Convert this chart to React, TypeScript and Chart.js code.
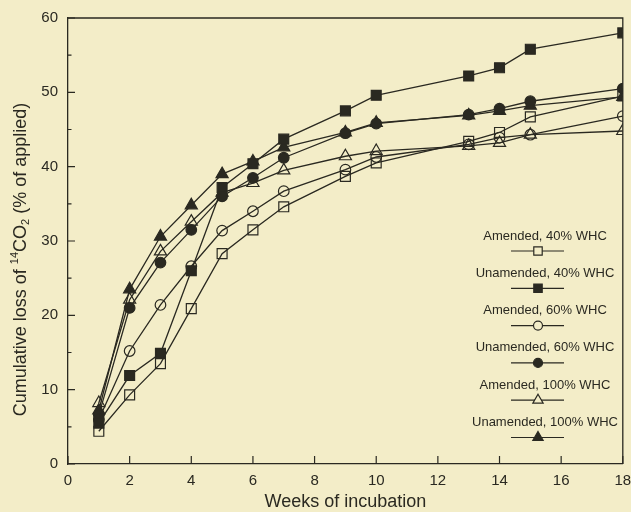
import React, { useEffect, useRef } from "react";
import { Chart, registerables } from "chart.js";

Chart.register(...registerables);

// ---- data ----
const weeks = [1, 2, 3, 4, 5, 6, 7, 9, 10, 13, 14, 15, 18];
const amended40 = [4.4, 9.3, 13.5, 20.9, 28.3, 31.5, 34.6, 38.7, 40.5, 43.4, 44.6, 46.7, 49.5];
const unamended40 = [5.5, 11.9, 14.9, 26.0, 37.2, 40.4, 43.7, 47.5, 49.6, 52.2, 53.3, 55.8, 58.0];
const amended60 = [6.0, 15.2, 21.4, 26.6, 31.4, 34.0, 36.7, 39.6, 41.3, 43.0, 43.9, 44.3, 46.8];
const unamended60 = [6.6, 21.0, 27.1, 31.5, 36.0, 38.5, 41.2, 44.5, 45.8, 47.0, 47.8, 48.8, 50.5];
const amended100 = [8.2, 22.1, 28.6, 32.6, 36.5, 37.8, 39.5, 41.4, 42.1, 42.8, 43.2, 44.3, 44.8];
const unamended100 = [7.2, 23.5, 30.6, 34.8, 39.0, 40.7, 42.6, 44.6, 45.9, 46.9, 47.5, 48.2, 49.4];

const seriesLabels = [
  "Amended, 40% WHC",
  "Unamended, 40% WHC",
  "Amended, 60% WHC",
  "Unamended, 60% WHC",
  "Amended, 100% WHC",
  "Unamended, 100% WHC",
];
const seriesValues = [amended40, unamended40, amended60, unamended60, amended100, unamended100];
const seriesShapes = ["rect", "rect", "circle", "circle", "triangle", "triangle"];
const seriesFilled = [false, true, false, true, false, true];

const xTicks = [0, 2, 4, 6, 8, 10, 12, 14, 16, 18];
const yTicks = [0, 10, 20, 30, 40, 50, 60];
const xTitle = "Weeks of incubation";

// ---- style ----
const BG = "#f3edc8";
const INK = "#2a2921";
const FONT = "'Liberation Sans', Arial, Helvetica, sans-serif";
const RADIUS: Record<string, number> = { rect: 7, circle: 5.3, triangle: 7 };

function drawMarker(ctx: CanvasRenderingContext2D, shape: string, x: number, y: number, r: number, filled: boolean) {
  ctx.beginPath();
  if (shape === "rect") {
    const h = Math.SQRT1_2 * r;
    ctx.rect(x - h, y - h, 2 * h, 2 * h);
  } else if (shape === "circle") {
    ctx.arc(x, y, r, 0, Math.PI * 2);
  } else {
    const a = (2 * Math.PI) / 3;
    ctx.moveTo(x, y - r);
    ctx.lineTo(x + Math.sin(a) * r, y - Math.cos(a) * r);
    ctx.lineTo(x + Math.sin(2 * a) * r, y - Math.cos(2 * a) * r);
    ctx.closePath();
  }
  ctx.fillStyle = filled ? INK : BG;
  ctx.fill();
  ctx.strokeStyle = INK;
  ctx.lineWidth = 1.2;
  ctx.stroke();
}

const decorPlugin = {
  id: "decor",
  beforeDraw(chart: any) {
    const ctx = chart.ctx;
    ctx.save();
    ctx.fillStyle = BG;
    ctx.fillRect(0, 0, chart.width, chart.height);
    ctx.restore();
  },
  afterDraw(chart: any) {
    const ctx: CanvasRenderingContext2D = chart.ctx;
    const { left, right, top, bottom } = chart.chartArea;
    const xs = chart.scales.x;
    const ys = chart.scales.y;
    ctx.save();
    ctx.strokeStyle = INK;
    ctx.lineWidth = 1.3;
    // frame top/right
    ctx.beginPath();
    ctx.moveTo(left, top);
    ctx.lineTo(right, top);
    ctx.lineTo(right, bottom);
    ctx.stroke();
    // inward ticks
    ctx.lineWidth = 1.2;
    ctx.beginPath();
    for (let v = 0; v <= 60; v += 5) {
      const py = ys.getPixelForValue(v);
      const len = v % 10 === 0 ? 7 : 3.5;
      ctx.moveTo(left, py);
      ctx.lineTo(left + len, py);
    }
    xTicks.forEach((v) => {
      const px = xs.getPixelForValue(v);
      ctx.moveTo(px, bottom);
      ctx.lineTo(px, bottom - 8);
    });
    ctx.stroke();

    // y title with super/subscript
    ctx.save();
    ctx.translate(21, 259.5);
    ctx.rotate(-Math.PI / 2);
    ctx.fillStyle = INK;
    ctx.textBaseline = "middle";
    const big = `18px ${FONT}`;
    const small = `11px ${FONT}`;
    const parts: [string, string, number][] = [
      ["Cumulative loss of ", big, 0],
      ["14", small, -6],
      ["CO", big, 0],
      ["2", small, 5],
      [" (% of applied)", big, 0],
    ];
    let total = 0;
    parts.forEach(([t, f]) => {
      ctx.font = f;
      total += ctx.measureText(t).width;
    });
    let cx = -total / 2;
    ctx.textAlign = "left";
    parts.forEach(([t, f, dy]) => {
      ctx.font = f;
      ctx.fillText(t, cx, dy);
      cx += ctx.measureText(t).width;
    });
    ctx.restore();

    // legend
    const legendCenterX = 545;
    const sampleX0 = 511;
    const sampleX1 = 564;
    const markerX = 538;
    const firstTextY = 236;
    const step = 37.3;
    ctx.font = `13px ${FONT}`;
    ctx.textAlign = "center";
    ctx.textBaseline = "middle";
    seriesLabels.forEach((lab, i) => {
      const ty = firstTextY + i * step;
      const sy = ty + 15;
      ctx.fillStyle = INK;
      ctx.fillText(lab, legendCenterX, ty);
      ctx.strokeStyle = INK;
      ctx.lineWidth = 1.2;
      ctx.beginPath();
      ctx.moveTo(sampleX0, sy);
      ctx.lineTo(sampleX1, sy);
      ctx.stroke();
      drawMarker(ctx, seriesShapes[i], markerX, sy, RADIUS[seriesShapes[i]] * 0.85, seriesFilled[i]);
    });
    ctx.restore();
  },
};

export default function App() {
  const ref = useRef<HTMLCanvasElement | null>(null);
  useEffect(() => {
    if (!ref.current) return;
    const datasets = seriesLabels.map((label, i) => ({
      label,
      data: weeks.map((w, j) => ({ x: w, y: seriesValues[i][j] })),
      borderColor: INK,
      backgroundColor: seriesFilled[i] ? INK : "rgba(0,0,0,0)",
      pointBorderColor: INK,
      pointBackgroundColor: seriesFilled[i] ? INK : "rgba(0,0,0,0)",
      pointStyle: seriesShapes[i],
      pointRadius: RADIUS[seriesShapes[i]],
      pointBorderWidth: 1.2,
      borderWidth: 1.3,
      showLine: true,
      tension: 0,
      fill: false,
    }));
    const chart = new Chart(ref.current, {
      type: "scatter",
      data: { datasets },
      options: {
        animation: false,
        responsive: false,
        devicePixelRatio: 1,
        layout: { padding: { left: 0, right: 6, top: 18, bottom: 0 } },
        plugins: { legend: { display: false }, tooltip: { enabled: false } },
        scales: {
          x: {
            type: "linear",
            min: 0,
            max: 18,
            afterFit: (s: any) => {
              s.height = 48;
              s.paddingLeft = 0;
              s.paddingRight = 0;
            },
            afterBuildTicks: (s: any) => {
              s.ticks = xTicks.map((v) => ({ value: v }));
            },
            grid: { display: false, drawTicks: false },
            border: { display: true, color: INK, width: 1.3 },
            ticks: { color: INK, font: { family: FONT, size: 15 }, padding: 8, autoSkip: false, maxRotation: 0 },
            title: { display: true, text: xTitle, color: INK, font: { family: FONT, size: 18 }, padding: { top: 0, bottom: -1 } },
          },
          y: {
            type: "linear",
            min: 0,
            max: 60,
            afterFit: (s: any) => {
              s.width = 68;
              s.paddingTop = 0;
              s.paddingBottom = 0;
            },
            afterBuildTicks: (s: any) => {
              s.ticks = yTicks.map((v) => ({ value: v }));
            },
            grid: { display: false, drawTicks: false },
            border: { display: true, color: INK, width: 1.3 },
            ticks: { color: INK, font: { family: FONT, size: 15 }, padding: 10 },
          },
        },
      },
      plugins: [decorPlugin],
    } as any);
    return () => chart.destroy();
  }, []);
  return (
    <div style={{ position: "fixed", left: 0, top: 0, width: 631, height: 512, background: BG }}>
      <canvas ref={ref} width={631} height={512} style={{ display: "block" }} />
    </div>
  );
}
